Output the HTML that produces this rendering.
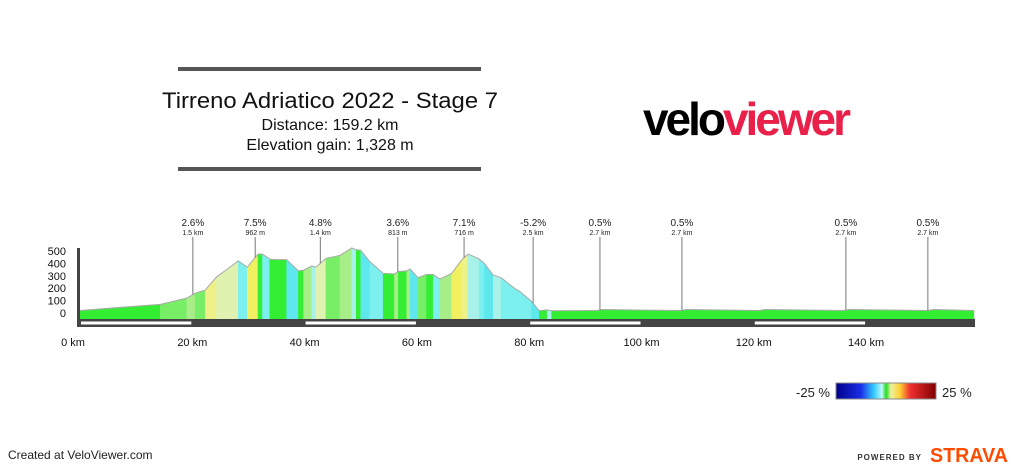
<!DOCTYPE html>
<html><head><meta charset="utf-8"><style>
html,body{margin:0;padding:0;background:#fff;}
body{width:1024px;height:469px;position:relative;overflow:hidden;font-family:"Liberation Sans",Arial,sans-serif;}
</style></head><body>
<svg id="chart" width="1024" height="469" viewBox="0 0 1024 469" xmlns="http://www.w3.org/2000/svg" style="position:absolute;left:0;top:0;font-family:'Liberation Sans',Arial,sans-serif">
  <rect x="178" y="67" width="303" height="4" fill="#555"/>
  <rect x="178" y="167" width="303" height="4" fill="#555"/>
  <text x="330" y="108" font-size="22" text-anchor="middle" fill="#111" textLength="336" lengthAdjust="spacingAndGlyphs">Tirreno Adriatico 2022 - Stage 7</text>
  <text x="330" y="130" font-size="16" text-anchor="middle" fill="#111">Distance: 159.2 km</text>
  <text x="330" y="150" font-size="16" text-anchor="middle" fill="#111">Elevation gain: 1,328 m</text>
  <text x="643" y="135" font-size="46" font-weight="bold" letter-spacing="-3" textLength="205" lengthAdjust="spacingAndGlyphs"><tspan fill="#000">velo</tspan><tspan fill="#e8204a">viewer</tspan></text>
  <g id="profile"></g>
  <g id="axes"></g>
  <g id="markers"></g>
  <defs><linearGradient id="lg" x1="0" x2="1" y1="0" y2="0">
    <stop offset="0" stop-color="#00008b"/><stop offset="0.25" stop-color="#1a2ee8"/><stop offset="0.38" stop-color="#33ccff"/><stop offset="0.46" stop-color="#bff8f8"/><stop offset="0.5" stop-color="#22dd22"/><stop offset="0.55" stop-color="#eef0a0"/><stop offset="0.64" stop-color="#ffd033"/><stop offset="0.74" stop-color="#f03030"/><stop offset="1" stop-color="#800000"/>
  </linearGradient></defs>
  <text x="830" y="397" font-size="13" text-anchor="end" fill="#222">-25 %</text>
  <rect x="836" y="383" width="100" height="16" fill="url(#lg)" stroke="#888"/>
  <text x="942" y="397" font-size="13" fill="#222">25 %</text>
  <text x="8" y="459" font-size="12" fill="#222">Created at VeloViewer.com</text>
  <text x="922" y="460" font-size="8" font-weight="bold" letter-spacing="1" text-anchor="end" fill="#333">POWERED BY</text>
  <text x="930" y="462" font-size="20" font-weight="bold" fill="#fc4c02" textLength="78" lengthAdjust="spacingAndGlyphs">STRAVA</text>
</svg>
<script>
const distKm=[0,14.3,19,20.5,22.3,24.3,26.4,28.2,29.8,31.7,32.5,33.8,34.6,36.8,38.9,39.8,41.3,42,43.8,46.3,48.4,49.2,50,51.6,54,56,56.7,58.2,58.8,60.2,61.7,62.9,64.1,66.2,68,69.1,69.9,71.1,72,73.6,75,77.5,78.3,80.4,81.8,83.2,84,92,93,107,108,121,122,136,137,151,152,159.2];
const elevM=[20,70,120,160,185,290,360,420,370,475,475,435,430,430,340,345,380,370,440,465,525,510,505,415,320,315,335,340,355,285,310,310,275,320,430,475,460,435,400,305,285,195,175,95,18,25,18,20,28,20,28,20,28,20,28,20,28,20];
const xTicks=[0,20,40,60,80,100,120,140];
const yTicks=[0,100,200,300,400,500];
const climbKm=[20.1,31.2,42.8,56.6,68.4,80.7,92.6,107.2,136.4,151];
const climbPct=["2.6%","7.5%","4.8%","3.6%","7.1%","-5.2%","0.5%","0.5%","0.5%","0.5%"];
const climbLen=["1.5 km","962 m","1.4 km","813 m","716 m","2.5 km","2.7 km","2.7 km","2.7 km","2.7 km"];
const NS="http://www.w3.org/2000/svg";
const X=k=>80+k*5.615, Y=e=>313-e*0.124;
function mk(t,a,p){const e=document.createElementNS(NS,t);for(const k in a)e.setAttribute(k,a[k]);p.appendChild(e);return e;}
function gradColor(g){
 if(g<-4)return"#5ee8ee"; if(g<-2.5)return"#7cefef"; if(g<-0.8)return"#a8f2ea";
 if(g<1)return"#33ee33"; if(g<2)return"#77ee66"; if(g<3)return"#a8ee88";
 if(g<4)return"#dff2b0"; if(g<5.5)return"#eef088"; return"#f0f060";}
const prof=document.getElementById('profile');
for(let i=0;i<distKm.length-1;i++){
 const g=(elevM[i+1]-elevM[i])/((distKm[i+1]-distKm[i])*1000)*100;
 const p=mk('polygon',{points:`${X(distKm[i])},319 ${X(distKm[i])},${Y(elevM[i])} ${X(distKm[i+1])},${Y(elevM[i+1])} ${X(distKm[i+1])},319`,fill:gradColor(g),stroke:gradColor(g),'stroke-width':0.5},prof);
 
 
}
const line=mk('polyline',{points:distKm.map((d,i)=>X(d)+','+Y(elevM[i])).join(' '),fill:'none',stroke:'#aaa','stroke-width':1},prof);


const ax=document.getElementById('axes');
const bar=mk('rect',{x:77,y:319,width:898,height:8,fill:'#444'},ax);


const yb=mk('rect',{x:77,y:248,width:3,height:79,fill:'#444'},ax);


xTicks.forEach((t,i)=>{
 if(i%2===0){const s=mk('rect',{x:X(t)+1,y:321.5,width:X(t+20)-X(t)-2,height:3,fill:'#fff'},ax);
 
 }
 const tx=mk('text',{x:X(t)+(t===0?-7:0),y:346,'font-size':11,'text-anchor':'middle',fill:'#111'},ax);tx.textContent=t+' km';
 
 
});
yTicks.forEach(t=>{const tx=mk('text',{x:66,y:Y(t)+4,'font-size':11,'text-anchor':'end',fill:'#111'},ax);tx.textContent=t;
 
 });
const mg=document.getElementById('markers');
function elevAt(k){for(let i=0;i<distKm.length-1;i++)if(k<=distKm[i+1]){const f=(k-distKm[i])/(distKm[i+1]-distKm[i]);return elevM[i]+f*(elevM[i+1]-elevM[i]);}return 0;}
climbKm.forEach((k,i)=>{
 const x=X(k);
 const l=mk('line',{x1:x,y1:237,x2:x,y2:Y(elevAt(k)),stroke:'#777','stroke-width':1},mg);
 
 
 const a=mk('text',{x:x,y:226,'font-size':10,'text-anchor':'middle',fill:'#222'},mg);a.textContent=climbPct[i];
 
 
 const b=mk('text',{x:x,y:235,'font-size':7,'text-anchor':'middle',fill:'#222'},mg);b.textContent=climbLen[i];
 
 
});
</script>
</body></html>
